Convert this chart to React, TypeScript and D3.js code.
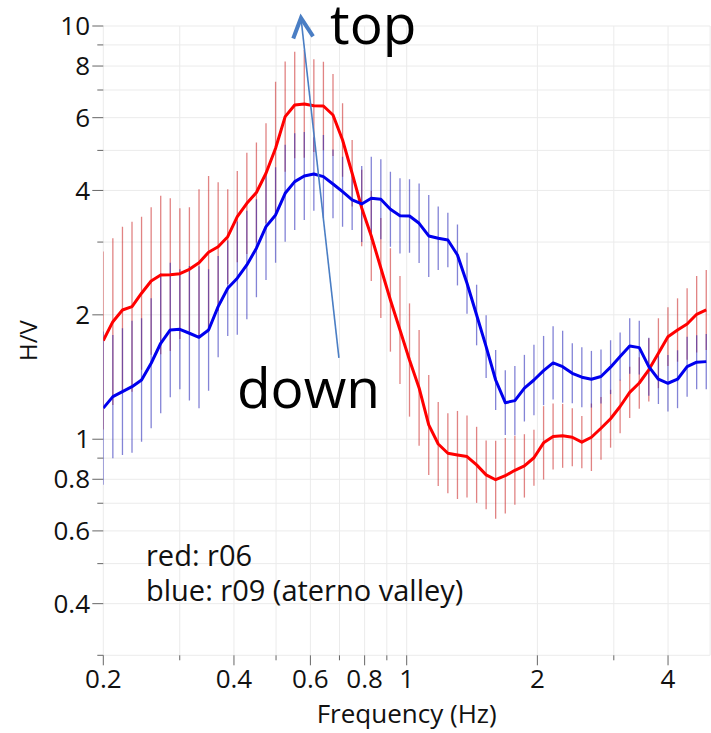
import React from "react";
import * as d3 from "d3";

const FREQ = [0.2, 0.2104, 0.2214, 0.2329, 0.245, 0.2578, 0.2712, 0.2853, 0.3002, 0.3158, 0.3323, 0.3496, 0.3678, 0.387, 0.4071, 0.4283, 0.4506, 0.4741, 0.4988, 0.5248, 0.5521, 0.5808, 0.6111, 0.6429, 0.6764, 0.7116, 0.7487, 0.7877, 0.8287, 0.8718, 0.9172, 0.965, 1.015, 1.068, 1.124, 1.182, 1.244, 1.309, 1.377, 1.449, 1.524, 1.603, 1.687, 1.775, 1.867, 1.964, 2.067, 2.174, 2.287, 2.407, 2.532, 2.664, 2.803, 2.949, 3.102, 3.264, 3.434, 3.612, 3.801, 3.998, 4.207, 4.426, 4.656, 4.899];

const RED_HV = [1.733, 1.925, 2.055, 2.093, 2.256, 2.415, 2.497, 2.502, 2.516, 2.578, 2.675, 2.834, 2.924, 3.091, 3.457, 3.724, 3.955, 4.402, 5.06, 6.034, 6.44, 6.476, 6.415, 6.404, 6.091, 5.299, 4.402, 3.628, 3.104, 2.597, 2.173, 1.838, 1.555, 1.331, 1.083, 0.974, 0.925, 0.916, 0.908, 0.867, 0.82, 0.798, 0.816, 0.841, 0.862, 0.902, 0.98, 1.015, 1.019, 1.011, 0.984, 1.011, 1.063, 1.121, 1.2, 1.298, 1.368, 1.472, 1.615, 1.771, 1.838, 1.901, 2.006, 2.055];
const RED_ERR = [1.642, 1.591, 1.59, 1.606, 1.532, 1.508, 1.555, 1.531, 1.44, 1.413, 1.505, 1.53, 1.432, 1.302, 1.29, 1.326, 1.321, 1.321, 1.449, 1.359, 1.346, 1.35, 1.295, 1.28, 1.257, 1.227, 1.204, 1.238, 1.285, 1.321, 1.334, 1.351, 1.371, 1.381, 1.321, 1.264, 1.25, 1.278, 1.257, 1.236, 1.211, 1.243, 1.234, 1.212, 1.193, 1.169, 1.227, 1.202, 1.195, 1.175, 1.156, 1.207, 1.191, 1.175, 1.16, 1.153, 1.154, 1.193, 1.215, 1.178, 1.193, 1.22, 1.238, 1.25];

const BLUE_HV = [1.189, 1.268, 1.304, 1.34, 1.391, 1.527, 1.707, 1.838, 1.845, 1.805, 1.765, 1.838, 2.093, 2.319, 2.453, 2.641, 2.899, 3.269, 3.489, 3.937, 4.201, 4.336, 4.385, 4.319, 4.147, 3.972, 3.793, 3.71, 3.829, 3.808, 3.602, 3.473, 3.469, 3.331, 3.104, 3.064, 3.035, 2.792, 2.385, 1.998, 1.675, 1.391, 1.226, 1.24, 1.329, 1.391, 1.466, 1.53, 1.498, 1.444, 1.413, 1.397, 1.418, 1.494, 1.585, 1.682, 1.666, 1.498, 1.397, 1.366, 1.397, 1.498, 1.536, 1.541];
const BLUE_ERR = [1.533, 1.41, 1.423, 1.444, 1.41, 1.436, 1.477, 1.455, 1.397, 1.455, 1.485, 1.402, 1.326, 1.305, 1.371, 1.353, 1.314, 1.346, 1.305, 1.31, 1.31, 1.278, 1.227, 1.261, 1.211, 1.215, 1.182, 1.236, 1.261, 1.25, 1.233, 1.233, 1.227, 1.248, 1.257, 1.193, 1.164, 1.185, 1.186, 1.184, 1.191, 1.182, 1.198, 1.213, 1.204, 1.217, 1.213, 1.226, 1.222, 1.182, 1.182, 1.171, 1.162, 1.162, 1.143, 1.167, 1.162, 1.175, 1.148, 1.171, 1.175, 1.182, 1.162, 1.166];

const X_TICKS = [0.2, 0.4, 0.6, 0.8, 1, 2, 4];
const X_MINOR = [0.3, 0.5, 0.7, 0.9, 3];
const X_GRID = [0.2, 0.3, 0.4, 0.5, 0.6, 0.7, 0.8, 0.9, 1, 2, 3, 4, 5];
const Y_TICKS = [0.4, 0.6, 0.8, 1, 2, 4, 6, 8, 10];
const Y_MINOR = [0.3, 0.5, 0.7, 0.9, 3, 5, 7, 9];
const Y_GRID = [0.3, 0.4, 0.5, 0.6, 0.7, 0.8, 0.9, 1, 2, 3, 4, 5, 6, 7, 8, 9, 10];

const LEGEND_LINES = ["red: r06", "blue: r09 (aterno valley)"];
// annotation in data coordinates: [freq, H/V]
const ARROW_TAIL = [0.698, 1.573];
const ARROW_TIP = [0.5707, 10.46];
const TOP_LABEL = { text: "top", at: [0.666, 9.05] };
const DOWN_LABEL = { text: "down", at: [0.4064, 1.19] };

const W = 711;
const H = 733;
const FONT = "'Open Sans', 'Noto Sans', sans-serif";

export default function App() {
  const x = d3.scaleLog().domain([0.2, 5]).range([103.3, 710.1]);
  const y = d3.scaleLog().domain([0.3, 10]).range([655.3, 26]);
  const [x0, x1] = x.range();
  const [y0, y1] = y.range();

  const line = d3
    .line<number>()
    .x((_, i) => x(FREQ[i]))
    .y((d) => y(d));

  const errBars = (vals: number[], errs: number[], color: string) =>
    vals.map((v, i) => (
      <line
        key={i}
        x1={x(FREQ[i])}
        x2={x(FREQ[i])}
        y1={y(v * errs[i])}
        y2={y(v / errs[i])}
        stroke={color}
        strokeWidth={1.3}
        strokeOpacity={0.55}
      />
    ));

  const tx = x(ARROW_TAIL[0]);
  const ty = y(ARROW_TAIL[1]);
  const hx = x(ARROW_TIP[0]);
  const hy = y(ARROW_TIP[1]);
  const ang = Math.atan2(ty - hy, tx - hx);
  const armLen = 22;
  const spread = 0.47;
  const a1 = [hx + armLen * Math.cos(ang - spread), hy + armLen * Math.sin(ang - spread)];
  const a2 = [hx + armLen * Math.cos(ang + spread), hy + armLen * Math.sin(ang + spread)];

  return (
    <svg
      width={W}
      height={H}
      style={{ position: "absolute", left: 0, top: 0, background: "#fff" }}
      fontFamily={FONT}
    >
      <defs>
        <clipPath id="plotclip">
          <rect x={x0} y={y1} width={x1 - x0 + 1} height={y0 - y1} />
        </clipPath>
      </defs>
      <g stroke="#ebebeb" strokeWidth={1}>
        {X_GRID.map((g) => (
          <line key={"xg" + g} x1={x(g)} x2={x(g)} y1={y0} y2={y1} />
        ))}
        {Y_GRID.map((g) => (
          <line key={"yg" + g} x1={x0} x2={x1} y1={y(g)} y2={y(g)} />
        ))}
      </g>
      <g stroke="#666" strokeWidth={1}>
        {X_TICKS.map((t) => (
          <line key={"xt" + t} x1={x(t)} x2={x(t)} y1={y0} y2={y0 + 10} />
        ))}
        {X_MINOR.map((t) => (
          <line key={"xm" + t} x1={x(t)} x2={x(t)} y1={y0} y2={y0 + 5} />
        ))}
        {Y_TICKS.map((t) => (
          <line key={"yt" + t} x1={x0 - 11} x2={x0} y1={y(t)} y2={y(t)} />
        ))}
        {Y_MINOR.map((t) => (
          <line key={"ym" + t} x1={x0 - 6} x2={x0} y1={y(t)} y2={y(t)} />
        ))}
      </g>
      <g fontSize={26} fill="#111">
        {X_TICKS.map((t) => (
          <text key={"xl" + t} x={x(t)} y={688} textAnchor="middle">
            {String(t)}
          </text>
        ))}
        {Y_TICKS.map((t) => (
          <text key={"yl" + t} x={90} y={y(t)} dy="0.35em" textAnchor="end">
            {String(t)}
          </text>
        ))}
      </g>
      <text x={(x0 + x1) / 2} y={723} textAnchor="middle" fontSize={26} fill="#111">
        Frequency (Hz)
      </text>
      <text
        transform={`translate(37, ${(y0 + y1) / 2}) rotate(-90)`}
        textAnchor="middle"
        fontSize={24}
        fill="#111"
      >
        H/V
      </text>

      <g clipPath="url(#plotclip)">
        {errBars(RED_HV, RED_ERR, "#c81e1e")}
        {errBars(BLUE_HV, BLUE_ERR, "#1e1eb4")}
        <path d={line(RED_HV) || ""} fill="none" stroke="#ff0000" strokeWidth={3} strokeLinejoin="round" />
        <path d={line(BLUE_HV) || ""} fill="none" stroke="#0000ee" strokeWidth={3} strokeLinejoin="round" />
      </g>

      <g fontSize={29} fill="#111">
        {LEGEND_LINES.map((t, i) => (
          <text key={t} x={146} y={566 + i * 35}>
            {t}
          </text>
        ))}
      </g>

      <line x1={tx} y1={ty} x2={hx} y2={hy} stroke="#4a7ec4" strokeWidth={1.6} />
      <polyline
        points={`${a1[0]},${a1[1]} ${hx},${hy} ${a2[0]},${a2[1]}`}
        fill="none"
        stroke="#4a7ec4"
        strokeWidth={4}
        strokeLinejoin="miter"
      />
      <text x={x(TOP_LABEL.at[0])} y={y(TOP_LABEL.at[1])} fontSize={55} fill="#000">
        {TOP_LABEL.text}
      </text>
      <text x={x(DOWN_LABEL.at[0])} y={y(DOWN_LABEL.at[1])} fontSize={55} fill="#000">
        {DOWN_LABEL.text}
      </text>
    </svg>
  );
}
